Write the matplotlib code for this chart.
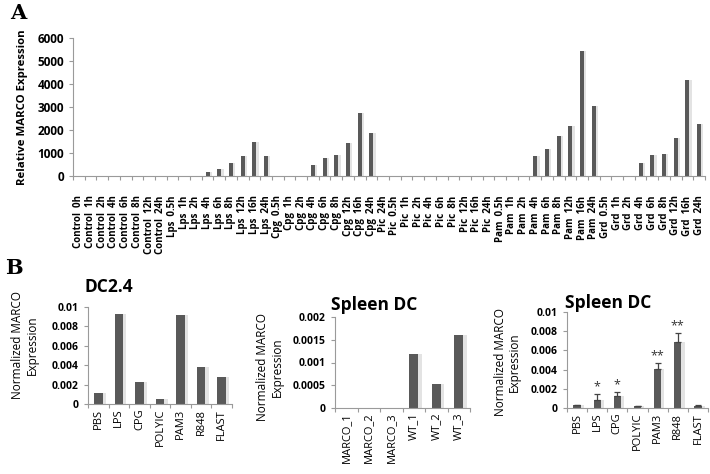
import matplotlib
matplotlib.use("Agg")
import matplotlib.pyplot as plt
import numpy as np

plt.rcParams['font.family'] = ['Open Sans', 'DejaVu Sans']

# ---------------- Panel A data ----------------
a_labels = (["Control  0h", "Control  1h", "Control  2h", "Control  4h", "Control  6h",
             "Control  8h", "Control  12h", "Control  24h"] +
            ["Lps  " + t for t in ["0.5h", "1h", "2h", "4h", "6h", "8h", "12h", "16h", "24h"]] +
            ["Cpg  " + t for t in ["0.5h", "1h", "2h", "4h", "6h", "8h", "12h", "16h", "24h"]] +
            ["Pic  " + t for t in ["24h", "0.5h", "1h", "2h", "4h", "6h", "8h", "12h", "16h", "24h"]] +
            ["Pam  " + t for t in ["0.5h", "1h", "2h", "4h", "6h", "8h", "12h", "16h", "24h"]] +
            ["Grd  " + t for t in ["0.5h", "1h", "2h", "4h", "6h", "8h", "12h", "16h", "24h"]])
control_vals = [0, 0, 0, 0, 0, 0, 0, 0]
lps_vals = [0, 0, 0, 175, 290, 555, 875, 1500, 850]
cpg_vals = [0, 0, 0, 480, 800, 900, 1420, 2760, 1860]
pic_vals = [0, 0, 0, 0, 0, 0, 0, 0, 0, 0]
pam_vals = [0, 0, 20, 885, 1160, 1755, 2180, 5450, 3065]
grd_vals = [0, 0, 0, 550, 930, 975, 1670, 4185, 2250]
a_values = control_vals + lps_vals + cpg_vals + pic_vals + pam_vals + grd_vals

# ---------------- Panel B data ----------------
b1_labels = ["PBS", "LPS", "CPG", "POLYIC", "PAM3", "R848", "FLAST"]
b1_values = [0.0011, 0.0093, 0.0023, 0.00055, 0.0092, 0.0038, 0.0028]

b2_labels = ["MARCO_1", "MARCO_2", "MARCO_3", "WT_1", "WT_2", "WT_3"]
b2_values = [0, 0, 0, 0.00118, 0.00053, 0.00161]

b3_labels = ["PBS", "LPS", "CPG", "POLYIC", "PAM3", "R848", "FLAST"]
b3_values = [0.00028, 0.00087, 0.00122, 0.00017, 0.00406, 0.00688, 0.00024]
b3_errors = [0.00005, 0.00063, 0.00045, 0.00003, 0.00066, 0.00092, 0.00011]
b3_stars = ["", "*", "*", "", "**", "**", ""]

W, H = 710, 474
fig = plt.figure(figsize=(W / 100, H / 100), dpi=100)

BAR = '#595959'
SHADOW = '#e3e3e3'
SPINE = '#9a9a9a'


def ax_px(x0, y0, x1, y1):
    return fig.add_axes([x0 / W, 1 - y1 / H, (x1 - x0) / W, (y1 - y0) / H])


def style(ax, n):
    for s in ['top', 'right']:
        ax.spines[s].set_visible(False)
    for s in ['left', 'bottom']:
        ax.spines[s].set_color(SPINE)
        ax.spines[s].set_linewidth(0.8)
    ax.set_xlim(-0.5, n - 0.5)
    ax.set_xticks(np.arange(n))
    ax.set_xticks(np.arange(n + 1) - 0.5, minor=True)
    ax.tick_params(axis='x', which='major', length=0)
    ax.tick_params(axis='x', which='minor', length=3, color=SPINE, width=0.8)
    ax.tick_params(axis='y', length=3, color=SPINE, width=0.8)


# ---------------- Panel A ----------------
axA = ax_px(73, 38, 705, 176)
xa = np.arange(len(a_values))
axA.bar(xa + 0.18, a_values, width=0.38, color=SHADOW, zorder=1)
axA.bar(xa, a_values, width=0.34, color=BAR, zorder=2)
style(axA, len(a_values))
axA.set_ylim(0, 6000)
axA.set_yticks(np.arange(0, 6001, 1000))
axA.set_yticklabels([str(v) for v in range(0, 6001, 1000)], fontsize=8.5, fontweight='bold')
axA.set_xticklabels(a_labels, rotation=90, fontsize=7, fontweight='bold')
axA.tick_params(axis='x', which='major', pad=14)
axA.set_ylabel("Relative MARCO Expression", fontsize=8.2, fontweight='bold', labelpad=7)

fig.text(10 / W, 1 - 13 / H, "A", fontsize=15, fontweight='bold', family='DejaVu Serif',
         va='center', ha='left')
fig.text(5 / W, 1 - 268 / H, "B", fontsize=15, fontweight='bold', family='DejaVu Serif',
         va='center', ha='left')


def panel_b(rect, labels, values, ymax, yticks, yticklabels, title, title_xy, ylabel_x,
            width, errors=None, stars=None):
    ax = ax_px(*rect)
    x = np.arange(len(values))
    ax.bar(x + 0.12, values, width=width + 0.08, color=SHADOW, zorder=1)
    if errors is not None:
        ax.bar(x, values, width=width, color=BAR, zorder=2,
               yerr=[np.zeros(len(errors)), errors],
               error_kw=dict(ecolor='#444444', elinewidth=0.9, capsize=2.5, capthick=0.9))
    else:
        ax.bar(x, values, width=width, color=BAR, zorder=2)
    style(ax, len(values))
    ax.set_ylim(0, ymax)
    ax.set_yticks(yticks)
    ax.set_yticklabels(yticklabels, fontsize=7.5, fontweight='bold')
    ax.set_xticklabels(labels, rotation=90, fontsize=8)
    if stars is not None:
        for xi, v, e, s in zip(x, values, errors, stars):
            if s:
                ax.text(xi, v + e + ymax * 0.005, s, ha='center', va='bottom',
                        fontsize=9, color='#333333')
    fig.text(title_xy[0] / W, 1 - title_xy[1] / H, title, fontsize=12.5, fontweight='bold',
             ha='left', va='center')
    fig.text(ylabel_x[0] / W, 1 - ylabel_x[1] / H, "Normalized MARCO\nExpression",
             rotation=90, fontsize=8.5, ha='center', va='center', multialignment='center',
             linespacing=1.1)
    return ax


panel_b((88, 307, 232, 404), b1_labels, b1_values, 0.01,
        [0, 0.002, 0.004, 0.006, 0.008, 0.01],
        ["0", "0.002", "0.004", "0.006", "0.008", "0.01"],
        "DC2.4", (85, 287), (25, 345), 0.42)

panel_b((335, 317, 470, 408), b2_labels, b2_values, 0.002,
        [0, 0.0005, 0.001, 0.0015, 0.002],
        ["0", "0.0005", "0.001", "0.0015", "0.002"],
        "Spleen DC", (331, 305), (270, 367), 0.38)

panel_b((567, 312, 708, 408), b3_labels, b3_values, 0.01,
        [0, 0.002, 0.004, 0.006, 0.008, 0.01],
        ["0", "0.002", "0.004", "0.006", "0.008", "0.01"],
        "Spleen DC", (565, 303), (507, 362), 0.36, errors=b3_errors, stars=b3_stars)

fig.savefig("out.png", dpi=100)
